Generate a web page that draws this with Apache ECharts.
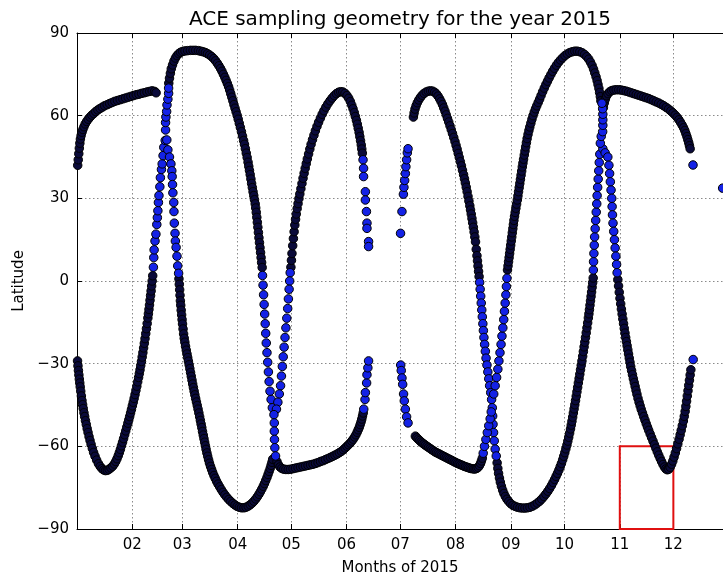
<!DOCTYPE html>
<html><head><meta charset="utf-8">
<script src="https://cdn.jsdelivr.net/npm/echarts@6/dist/echarts.min.js"></script>
<style>html,body{margin:0;padding:0;background:#fff}#c{width:723px;height:579px}</style>
</head><body><div id="c"></div>
<script>
// x = day of year 2015 (0 = Jan 1), y = latitude
const monthStartDays = [31,59,90,120,151,181,212,243,273,304,334];
const monthLabels = ['02','03','04','05','06','07','08','09','10','11','12'];

// ---- dense (tube-like) runs ----
const upJanFeb = [[0.4,42],[0.7,44],[1.0,46.2],[1.3,48.2],[1.6,50],[1.9,51.5],[2.3,52.8],[2.8,54],[3.3,55],[3.9,56],[4.6,57],[5.4,57.9],[6.3,58.7],[7.3,59.5],[8.3,60.2],[9.4,60.8],[10.5,61.5],[11.7,62.1],[12.9,62.6],[14.2,63.1],[15.5,63.6],[16.9,64],[18.3,64.4],[19.7,64.8],[21.2,65.2],[22.7,65.5],[24.2,65.8],[25.7,66.1],[27.2,66.4],[28.7,66.7],[30.2,67],[31.7,67.3],[33.2,67.6],[34.7,67.8],[36.2,68.1],[37.7,68.3],[39.2,68.6],[40.7,68.8],[42.1,69],[43.5,68.8],[44.3,68.3]];
const lowJanFeb = [[0.3,-29],[0.55,-30.8],[0.8,-32.5],[1.05,-34.1],[1.3,-35.6],[1.55,-37],[1.8,-38.4],[2.1,-40],[2.45,-41.7],[2.8,-43.4],[3.15,-44.9],[3.5,-46.3],[3.9,-47.8],[4.3,-49.2],[4.75,-50.7],[5.2,-52.1],[5.7,-53.6],[6.2,-55],[6.75,-56.5],[7.3,-57.9],[7.9,-59.3],[8.6,-60.8],[9.3,-62.2],[10.1,-63.6],[11,-65],[12,-66.3],[13,-67.3],[14,-68.1],[15,-68.6],[16,-68.8],[17,-68.7],[18,-68.3],[19,-67.8],[20,-67.2],[20.9,-66.4],[21.7,-65.5],[22.4,-64.5],[23.1,-63.4],[23.7,-62.3],[24.3,-61.1],[24.9,-59.8],[25.5,-58.5],[26.1,-57.2],[26.7,-55.8],[27.3,-54.4],[27.9,-53],[28.5,-51.6],[29,-50.4],[29.5,-49.2],[30,-47.9],[30.5,-46.6],[31,-45.3],[31.5,-44],[32,-42.6],[32.5,-41.2],[33,-39.7],[33.5,-38.2],[34,-36.6],[34.5,-35],[34.9,-33.6],[35.3,-32.2],[35.7,-30.7],[36.1,-29.2],[36.5,-27.6],[36.9,-26],[37.3,-24.3],[37.7,-22.6],[38.1,-20.9],[38.5,-19.1],[38.9,-17.3],[39.3,-15.4],[39.7,-13.4],[40,-11.9],[40.3,-10.3],[40.6,-8.7],[40.9,-7],[41.2,-5.3],[41.5,-3.6],[41.8,-1.8],[42.1,0],[42.4,1.9]];
const archMar = [[51.4,71.8],[51.8,73.6],[52.3,75.4],[52.8,77],[53.5,78.4],[54.3,79.8],[55.1,80.9],[56,81.8],[57,82.5],[58,83],[59.2,83.3],[60.5,83.5],[62,83.6],[63.5,83.7],[65,83.7],[66.5,83.7],[68,83.6],[69.3,83.4],[70.6,83.2],[71.9,82.9],[73.1,82.5],[74.3,82],[75.5,81.4],[76.6,80.7],[77.6,79.9],[78.6,79],[79.5,78.1],[80.4,77.1],[81.2,76.1],[82,75],[82.8,73.9],[83.5,72.8],[84.2,71.7],[84.9,70.5],[85.5,69.3],[86.1,68],[86.7,66.7],[87.3,65.4],[87.9,64],[88.5,62.7],[89.1,61.4],[89.7,60.1],[90.3,58.7],[90.9,57.2],[91.5,55.7],[92.1,54.2],[92.7,52.6],[93.3,51],[93.8,49.6],[94.3,48],[94.8,46.4],[95.3,44.8],[95.8,43.1],[96.2,41.6],[96.6,40.1],[97,38.6],[97.4,37],[97.8,35.4],[98.2,33.9],[98.6,32.4],[99,31],[99.4,29.5],[99.8,28],[100.1,26.5],[100.4,24.9],[100.7,23.1],[101,21.3],[101.3,19.5],[101.6,17.6],[101.9,15.7],[102.2,13.9],[102.5,12.1],[102.8,10.3],[103.1,8.5],[103.4,6.7],[103.7,4.9]];
const lowMarApr = [[57.1,0.8],[57.3,-1.2],[57.5,-3.2],[57.7,-5.2],[57.9,-7.2],[58.1,-8.8],[58.35,-10.6],[58.6,-12.3],[58.85,-14],[59.1,-15.6],[59.4,-17.4],[59.7,-19.2],[60.05,-20.8],[60.4,-22.2],[60.8,-23.7],[61.2,-25.1],[61.6,-26.5],[62,-27.8],[62.4,-29.1],[62.8,-30.4],[63.2,-31.8],[63.6,-33.2],[64,-34.6],[64.4,-36],[64.8,-37.4],[65.2,-38.7],[65.6,-40],[66,-41.3],[66.45,-42.6],[66.9,-43.9],[67.35,-45.2],[67.8,-46.5],[68.25,-47.9],[68.7,-49.3],[69.1,-50.6],[69.5,-51.9],[69.9,-53.2],[70.3,-54.6],[70.7,-55.9],[71.1,-57.2],[71.5,-58.5],[71.9,-59.8],[72.3,-61.1],[72.75,-62.4],[73.2,-63.6],[73.7,-64.9],[74.2,-66.1],[74.8,-67.3],[75.4,-68.4],[76,-69.5],[76.7,-70.6],[77.4,-71.6],[78.2,-72.7],[79,-73.7],[79.9,-74.7],[80.8,-75.7],[81.8,-76.7],[82.8,-77.6],[83.9,-78.5],[85,-79.3],[86.1,-80],[87.3,-80.7],[88.5,-81.3],[89.7,-81.8],[90.9,-82.1],[92.1,-82.3]];
const aprRise = [[93.5,-82.3],[94.7,-82.1],[95.9,-81.7],[97,-81.2],[98.1,-80.6],[99.1,-79.9],[100.1,-79.1],[101,-78.3],[101.9,-77.4],[102.7,-76.5],[103.5,-75.5],[104.3,-74.5],[105,-73.5],[105.7,-72.4],[106.4,-71.3],[107,-70.2],[107.6,-69.1],[108.2,-68],[108.7,-66.9],[109.2,-65.8],[109.6,-64.7]];
const mayPeak = [[119.8,5],[120.1,7.5],[120.4,10],[120.8,12.8],[121.2,15.4],[121.6,17.9],[122,20.3],[122.4,22.4],[122.8,24.3],[123.3,26.3],[123.8,28.1],[124.3,29.9],[124.8,31.6],[125.4,33.5],[126,35.4],[126.6,37.3],[127.2,39.1],[127.8,40.9],[128.4,42.6],[129,44.3],[129.7,46.1],[130.4,47.9],[131.1,49.6],[131.9,51.3],[132.7,52.9],[133.5,54.5],[134.4,56.1],[135.3,57.6],[136.3,59.1],[137.3,60.5],[138.3,61.8],[139.4,63.1],[140.5,64.3],[141.7,65.4],[142.9,66.4],[144.1,67.3],[145.3,68],[146.5,68.5],[147.7,68.7],[148.9,68.6],[150.1,68.1],[151.2,67.3],[152.2,66.3],[153.1,65.1],[153.9,63.8],[154.6,62.5],[155.3,61.1],[155.9,59.7],[156.5,58.3],[157,56.9],[157.5,55.4],[158,53.9],[158.4,52.4],[158.8,50.9],[159.2,49.4],[159.5,47.9],[159.8,46.4]];
const lowMayJun = [[112,-65.5],[112.8,-66.7],[113.7,-67.5],[114.7,-68],[115.8,-68.3],[117,-68.4],[118.3,-68.4],[119.6,-68.3],[121,-68.1],[122.4,-67.9],[123.8,-67.7],[125.2,-67.5],[126.6,-67.3],[128,-67.1],[129.4,-66.9],[130.8,-66.7],[132.2,-66.5],[133.6,-66.2],[135,-65.9],[136.4,-65.5],[137.8,-65.2],[139.2,-64.8],[140.6,-64.4],[142,-64],[143.3,-63.6],[144.5,-63.2],[145.7,-62.8],[146.9,-62.3],[148.1,-61.8],[149.2,-61.2],[150.2,-60.6],[151.2,-60],[152.1,-59.4],[153,-58.8],[153.9,-58.1],[154.7,-57.4],[155.5,-56.6],[156.2,-55.8],[156.9,-54.9],[157.5,-54],[158.1,-53.1],[158.6,-52.1],[159.1,-51.1],[159.5,-50.1],[159.9,-49],[160.3,-47.9]];
const upJulAug = [[188.4,59.5],[188.8,61],[189.3,62.4],[189.9,63.6],[190.6,64.7],[191.4,65.7],[192.3,66.6],[193.3,67.4],[194.4,68.1],[195.6,68.6],[196.8,68.9],[198,69],[199.2,68.9],[200.3,68.5],[201.3,67.9],[202.2,67.1],[203.1,66.1],[203.9,65.1],[204.7,64],[205.4,62.8],[206.1,61.6],[206.8,60.3],[207.5,59],[208.2,57.7],[208.9,56.3],[209.6,54.9],[210.3,53.5],[211,52.1],[211.7,50.6],[212.3,49.2],[212.9,47.8],[213.5,46.3],[214.1,44.8],[214.7,43.3],[215.3,41.8],[215.9,40.2],[216.5,38.6],[217,37.1],[217.5,35.6],[218,34],[218.5,32.4],[219,30.7],[219.5,29],[220,27.3],[220.4,25.8],[220.8,24.3],[221.2,22.7],[221.6,21.1],[222,19.5],[222.4,17.8],[222.8,16],[223.2,14.2],[223.6,11.5],[224,9.2],[224.3,7.3],[224.6,5.4],[224.9,3.5],[225.2,1.6]];
const lowJulAug = [[189.5,-56.3],[190.3,-56.9],[191.1,-57.4],[191.9,-57.9],[192.7,-58.4],[193.5,-58.8],[194.3,-59.2],[195.1,-59.6],[196,-60],[196.9,-60.4],[197.8,-60.8],[198.7,-61.2],[199.6,-61.6],[200.5,-62],[201.4,-62.3],[202.3,-62.6],[203.2,-62.9],[204.1,-63.2],[205,-63.5],[205.9,-63.8],[206.8,-64.1],[207.7,-64.4],[208.6,-64.7],[209.5,-65],[210.4,-65.3],[211.3,-65.6],[212.2,-65.9],[213.1,-66.2],[214,-66.4],[214.9,-66.7],[215.8,-66.9],[216.7,-67.2],[217.6,-67.4],[218.5,-67.6],[219.4,-67.8],[220.3,-68],[221.2,-68.1],[222.1,-68.2],[223,-68.2],[223.9,-68],[224.7,-67.6],[225.4,-67],[226,-66.2],[226.5,-65.3],[227,-64.3]];
const sepMin = [[235.3,-66],[235.7,-68],[236.1,-69.8],[236.6,-71.5],[237.1,-73],[237.7,-74.5],[238.4,-75.9],[239.1,-77.1],[239.9,-78.2],[240.8,-79.2],[241.8,-80],[242.9,-80.8],[244.1,-81.4],[245.4,-81.8],[246.7,-82.1],[248.1,-82.3],[249.5,-82.4],[250.9,-82.4],[252.3,-82.3],[253.7,-82.1],[255.1,-81.7],[256.5,-81.2],[257.8,-80.6],[259.1,-79.9],[260.3,-79.1],[261.5,-78.2],[262.6,-77.3],[263.7,-76.3],[264.7,-75.3],[265.7,-74.2],[266.6,-73.1],[267.5,-72],[268.3,-70.9],[269.1,-69.8],[269.9,-68.6],[270.6,-67.4],[271.3,-66.2],[272,-64.9],[272.6,-63.6],[273.2,-62.3],[273.8,-60.9],[274.4,-59.5],[274.9,-58.1],[275.4,-56.7],[275.9,-55.2],[276.4,-53.7],[276.8,-52.3],[277.2,-50.9],[277.6,-49.4],[278,-47.9],[278.4,-46.4],[278.8,-44.9],[279.2,-43.4],[279.6,-41.8],[280,-40.2],[280.4,-38.6],[280.8,-37],[281.2,-35.4],[281.6,-33.8],[282,-32.2],[282.4,-30.6],[282.8,-29],[283.2,-27.3],[283.6,-25.6],[284,-23.9],[284.4,-22.2],[284.8,-20.5],[285.2,-18.8],[285.6,-17],[286,-15.2],[286.4,-13.4],[286.7,-11.9],[287,-10.4],[287.3,-8.8],[287.6,-7.2],[287.9,-5.6],[288.2,-4],[288.5,-2.3],[288.8,-0.6],[289.1,1.1]];
const archOct = [[241.1,4],[241.4,5.5],[241.7,7],[242,8.5],[242.3,10],[242.6,11.5],[242.9,13],[243.2,14.5],[243.5,16],[243.8,17.5],[244.1,19],[244.4,20.5],[244.7,22],[245.05,23.5],[245.4,24.9],[245.8,26.4],[246.2,27.9],[246.6,29.4],[246.95,30.9],[247.3,32.4],[247.65,33.9],[248,35.4],[248.35,36.9],[248.7,38.4],[249.05,39.9],[249.4,41.4],[249.75,42.8],[250.1,44.2],[250.5,45.7],[250.9,47.2],[251.3,48.7],[251.7,50.2],[252.1,51.7],[252.6,53.2],[253.1,54.6],[253.6,55.9],[254.2,57.3],[254.8,58.7],[255.4,60],[256.1,61.3],[256.8,62.5],[257.5,63.6],[258.3,64.8],[259.1,66],[259.9,67.3],[260.8,68.7],[261.7,70],[262.6,71.3],[263.5,72.5],[264.4,73.7],[265.4,74.9],[266.4,76.1],[267.4,77.2],[268.5,78.3],[269.6,79.3],[270.8,80.2],[272,81],[273.3,81.8],[274.6,82.4],[276,82.9],[277.4,83.2],[278.8,83.4],[280.2,83.4],[281.6,83.2],[283,82.8],[284.3,82.2],[285.5,81.4],[286.6,80.5],[287.6,79.4],[288.5,78.2],[289.3,76.9],[290,75.5],[290.7,74.1],[291.3,72.7],[291.8,71.3],[292.3,69.9],[292.7,68.4],[293.1,66.9],[293.4,65.4]];
const upNovDec = [[294.8,63],[295.3,64.6],[295.9,66],[296.6,67.2],[297.4,68],[298.4,68.7],[299.5,69.1],[300.7,69.3],[302,69.4],[303.4,69.4],[304.8,69.3],[306.2,69.1],[307.6,68.9],[309,68.6],[310.4,68.3],[311.8,68],[313.2,67.7],[314.6,67.4],[316,67.1],[317.4,66.8],[318.8,66.5],[320.2,66.2],[321.6,65.8],[323,65.4],[324.4,65],[325.8,64.6],[327.2,64.1],[328.6,63.6],[330,63],[331.3,62.4],[332.6,61.7],[333.8,61],[335,60.2],[336.1,59.4],[337.1,58.5],[338,57.6],[338.9,56.6],[339.7,55.6],[340.4,54.6],[341,53.5],[341.6,52.4],[342.1,51.3],[342.6,50.2],[343,49.1],[343.4,48]];
const lowNovDec = [[302.9,0.5],[303.3,-1.8],[303.7,-4.1],[304.1,-6.3],[304.5,-8.3],[304.9,-10.2],[305.3,-12],[305.7,-13.8],[306.1,-15.5],[306.5,-17.2],[306.9,-18.9],[307.3,-20.5],[307.7,-22],[308.1,-23.5],[308.5,-25],[308.9,-26.5],[309.3,-28],[309.7,-29.5],[310.1,-31],[310.6,-32.5],[311.1,-34],[311.6,-35.5],[312.1,-36.9],[312.6,-38.3],[313.1,-39.7],[313.6,-41.1],[314.2,-42.6],[314.8,-44],[315.4,-45.3],[316,-46.6],[316.7,-47.9],[317.4,-49.2],[318.1,-50.5],[318.8,-51.8],[319.5,-53],[320.2,-54.2],[321,-55.5],[321.8,-56.8],[322.6,-58.1],[323.4,-59.4],[324.2,-60.7],[325,-62],[325.8,-63.2],[326.6,-64.4],[327.4,-65.5],[328.2,-66.6],[329,-67.5],[329.8,-68.2],[330.6,-68.5],[331.4,-68.3],[332.2,-67.6],[333,-66.5],[333.7,-65.3],[334.4,-63.9],[335.1,-62.4],[335.8,-60.8],[336.5,-59.1],[337.2,-57.4],[337.8,-55.8],[338.4,-54.2],[339,-52.5],[339.6,-50.8],[340.1,-49.1],[340.6,-47.3],[341,-45.5],[341.4,-43.6],[341.8,-41.7],[342.2,-39.8],[342.6,-37.9],[343,-36],[343.4,-34.1],[343.8,-32.2]];

// ---- sparse (individual dot) runs ----
const colFebL = [[42.8,5],[43,8.5],[43.2,11.3],[43.7,14.5],[44.2,17],[44.7,20.5],[45,23],[45.3,25.5],[45.6,28.5],[45.9,31],[46.4,34.2],[46.7,37.5],[47.3,40.5],[47.7,42.5],[48.2,45.5],[48.6,48.5]];
const colFebR = [[50.9,47.6],[51.8,45],[52.6,42.5],[53.1,40],[53.3,37.9],[53.5,35],[53.7,32],[54.2,28.5],[54.3,25.2],[54.5,21],[54.9,17.3],[55.1,14.5],[55.5,12.2],[56,9],[56.4,5.5],[56.9,2.8]];
const colFebTop = [[49.4,51],[50.3,51.2],[49.6,54.8],[49.6,57.5],[49.8,59.5],[50.2,61.5],[50.4,63.9],[50.9,66],[51.3,68.1],[51.3,70]];
const colAprL = [[103.9,2],[104.2,-1.5],[104.5,-5],[104.8,-8.5],[105.1,-12],[105.4,-15.5],[105.7,-19],[106,-22.5],[106.4,-26],[106.8,-29.5],[107.2,-33],[107.6,-36.5],[108.1,-40],[108.7,-43],[109.4,-46]];
const colAprR = [[119.4,3],[119.1,0],[118.8,-3],[118.4,-6.5],[118,-10],[117.5,-13.5],[117,-17],[116.5,-20.5],[116,-24],[115.5,-27.5],[115,-31],[114.5,-34.5],[114,-38],[113.3,-41],[112.5,-44],[111.7,-46.5]];
const colAprBot = [[110.3,-48.5],[110.5,-51.5],[110.5,-54.5],[110.6,-57.5],[110.8,-60.5],[111.2,-63.5]];
const junUpDots = [[160.2,44],[160.5,40.9],[160.5,37.9],[161.5,32.4],[161.5,29.4],[162.1,25.2],[162.4,21],[162.4,19.1],[163.3,14.3],[163.3,12.5]];
const junLowDots = [[160.6,-46.5],[161.3,-43],[161.5,-40.5],[162.2,-37],[162.4,-34],[162.9,-31.5],[163.3,-29]];
const julUpDots = [[181.2,17.3],[182,25.2],[182.8,31.5],[183.1,34],[183.5,36.5],[183.9,39],[184.2,41.5],[184.6,44],[185,46.5],[185.4,48]];
const julLowDots = [[181.3,-30.5],[181.6,-32.5],[182,-35.2],[182.4,-37.5],[182.9,-41],[183.3,-43.5],[183.9,-46.5],[184.6,-49.3],[185.4,-51.5]];
const colAugL = [[225.5,-0.5],[225.8,-3],[226.1,-5.5],[226.4,-8],[226.7,-10.5],[227,-13],[227.3,-15.5],[227.6,-18],[227.9,-20.5],[228.3,-23],[228.7,-25.5],[229.1,-28],[229.6,-30.5],[230.1,-33],[230.6,-35.5],[231.1,-38],[231.7,-40.5],[232.2,-43]];
const colAugR = [[233.4,-41],[234.2,-38],[235,-35],[235.7,-32],[236.3,-29],[236.9,-26],[237.5,-23],[238,-20],[238.5,-17],[239,-14],[239.4,-11],[239.8,-8],[240.2,-5],[240.5,-2],[240.8,1]];
const colAugBot = [[232.6,-46],[232.8,-49],[233,-52],[233.3,-55],[233.7,-58],[234.2,-61],[234.8,-63.5],[227.5,-62.5],[228.2,-60],[229,-57.5],[229.8,-55],[230.6,-52.5],[231.4,-50],[232,-47.5]];
const colOctL = [[289.2,4],[289.3,7],[289.5,10],[289.7,13],[289.9,16],[290.2,19],[290.5,22],[290.8,25],[291.1,28],[291.3,31],[291.6,34],[291.9,37],[292.2,40],[292.5,43],[292.8,46]];
const colOctR = [[294.5,48],[295.8,46.5],[297.3,45],[297.9,42],[298.3,39],[298.7,36],[299.1,33],[299.5,30],[299.7,27],[299.9,24],[300.2,21],[300.6,18],[301,15],[301.4,12],[301.8,9],[302.2,6],[302.5,3]];
const colOctTop = [[293.1,50],[293.6,52.5],[294.4,54.2],[294.5,56.5],[294.5,58.5],[294.5,60.5],[294.4,62.5],[294,64.5]];
const loneDots = [[345,42.1],[345.1,-28.5],[361.6,33.7]];

const tubeRuns = [upJanFeb, lowJanFeb, archMar, lowMarApr, aprRise, mayPeak, lowMayJun, upJulAug, lowJulAug, sepMin, archOct, upNovDec, lowNovDec];
const dotRuns = [colFebL, colFebR, colFebTop, colAprL, colAprR, colAprBot, junUpDots, junLowDots, julUpDots, julLowDots, colAugL, colAugR, colAugBot, colOctL, colOctR, colOctTop, loneDots];

const FONT = 'DejaVu Sans';
const series = [];
tubeRuns.forEach(d => series.push({
  type: 'scatter', data: d, symbol: 'circle', symbolSize: 8.5, clip: false,
  itemStyle: { color: '#0a0a3a', borderColor: '#000', borderWidth: 1, opacity: 1 },
  progressive: 0, large: false, silent: true
}));
dotRuns.forEach(d => series.push({
  type: 'scatter', data: d, symbol: 'circle', symbolSize: 8.5, clip: false,
  itemStyle: { color: '#1422e6', borderColor: '#000', borderWidth: 1, opacity: 1 },
  progressive: 0, large: false, silent: true
}));
// red box Nov 1 – Dec 1, -90 .. -60
series.push({
  type: 'scatter', data: [], silent: true,
  markArea: {
    silent: true,
    itemStyle: { color: 'rgba(0,0,0,0)', borderColor: '#e01010', borderWidth: 2 },
    data: [[{ coord: [304, -90] }, { coord: [334, -60] }]]
  }
});

const chart = echarts.init(document.getElementById('c'), null, { renderer: 'canvas' });
chart.setOption({
  animation: false,
  backgroundColor: '#fff',
  title: {
    text: 'ACE sampling geometry for the year 2015',
    left: 395, top: 5, textAlign: 'center',
    textStyle: { fontFamily: FONT, fontSize: 20, fontWeight: 'normal', color: '#000' }
  },
  grid: { left: 77, top: 33, right: 0, bottom: 50, containLabel: false, outerBoundsMode: 'none' },
  xAxis: [{
    type: 'value', min: 0, max: 361.8, position: 'bottom',
    name: 'Months of 2015', nameLocation: 'middle', nameGap: 32,
    nameTextStyle: { fontFamily: FONT, fontSize: 15, color: '#000' },
    axisLine: { show: true, onZero: false, lineStyle: { color: '#000', width: 1 } },
    axisTick: { show: true, inside: true, length: 5, customValues: monthStartDays, lineStyle: { color: '#000' } },
    axisLabel: { show: true, customValues: monthStartDays, margin: 9, fontFamily: FONT, fontSize: 15, color: '#000',
      formatter: v => monthLabels[monthStartDays.indexOf(v)] },
    splitLine: { show: true, lineStyle: { color: '#8a8a8a', width: 1, type: [1.5, 2.5] } }
  }, {
    type: 'value', min: 0, max: 361.8, position: 'top',
    axisLine: { show: true, onZero: false, lineStyle: { color: '#000', width: 1 } },
    axisTick: { show: true, inside: true, length: 5, customValues: monthStartDays, lineStyle: { color: '#000' } },
    axisLabel: { show: false }, splitLine: { show: false }
  }],
  yAxis: [{
    type: 'value', min: -90, max: 90, interval: 30,
    name: 'Latitude', nameLocation: 'middle', nameGap: 50,
    nameTextStyle: { fontFamily: FONT, fontSize: 15, color: '#000' },
    axisLine: { show: true, onZero: false, lineStyle: { color: '#000', width: 1 } },
    axisTick: { show: true, inside: true, length: 5, lineStyle: { color: '#000' } },
    axisLabel: { margin: 8, fontFamily: FONT, fontSize: 15, color: '#000',
      formatter: v => v < 0 ? '\u2212' + Math.abs(v) : String(v) },
    splitLine: { show: true, lineStyle: { color: '#8a8a8a', width: 1, type: [1.5, 2.5] } }
  }],
  series: series
});
</script>
</body></html>
